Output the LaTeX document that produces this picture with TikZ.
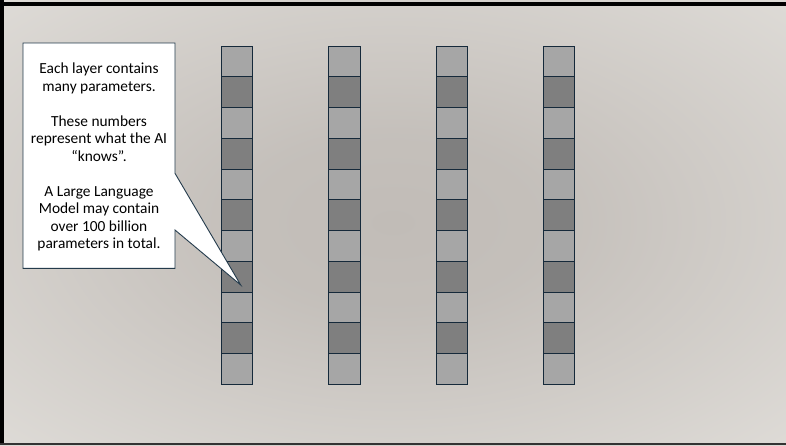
\documentclass[tikz,border=0pt]{standalone}
\usepackage{fontspec}
\setmainfont{Carlito}
\definecolor{bgcenter}{HTML}{C1BCB7}
\definecolor{bgedge}{HTML}{ECEAE6}
\definecolor{celllight}{HTML}{A6A6A6}
\definecolor{celldark}{HTML}{7F7F7F}
\definecolor{celledge}{HTML}{15293A}
\definecolor{calloutedge}{HTML}{243B4C}
\pgfdeclareradialshading{bgshade}{\pgfpoint{0bp}{0bp}}{color(0bp)=(bgcenter); color(10bp)=(bgcenter!92!bgedge); color(50bp)=(bgedge); color(60bp)=(bgedge)}
\tikzset{
  cellbox/.style={draw=celledge, line width=1pt, minimum width=31.3pt, minimum height=30.76pt, inner sep=0pt, outer sep=0pt, anchor=north west},
  lightcell/.style={cellbox, fill=celllight},
  darkcell/.style={cellbox, fill=celldark},
  calloutshape/.style={draw=calloutedge, line width=0.9pt, fill=white, line join=miter},
  callouttextstyle/.style={align=center, font=\fontsize{15.4pt}{17.5pt}\selectfont, text=black, inner sep=0pt}
}
\begin{document}
\begin{tikzpicture}[x=1pt,y=-1pt]
\useasboundingbox (0,0) rectangle (786,445);
% background
\shade[shading=bgshade] (0,0) rectangle (786,445);
% frame
\fill[black] (0,0) rectangle (4,445);
\fill[black] (0,2) rectangle (786,6);
\fill[black!80] (0,443) rectangle (786,445);
% columns
\foreach \c/\x in {1/221.3,2/328.7,3/436,4/543.3}{
  \foreach \r in {0,...,10}{
    \pgfmathtruncatemacro{\odd}{mod(\r,2)}
    \ifnum\odd=0
      \node[lightcell] (c\c-\r) at (\x, 46+\r*30.76) {};
    \else
      \node[darkcell] (c\c-\r) at (\x, 46+\r*30.76) {};
    \fi
  }
}
% callout
\coordinate (tip) at (240.7,285);
\draw[calloutshape] (23,43) -- (175,43) -- (175,173.3) -- (tip) -- (175,230) -- (175,268.3) -- (23,268.3) -- cycle;
\node[callouttextstyle] (callouttext) at (99,157) {Each layer contains\\many parameters.\\[17.5pt]These numbers\\represent what the AI\\“knows”.\\[17.5pt]A Large Language\\Model may contain\\over 100 billion\\parameters in total.};
\end{tikzpicture}
\end{document}
